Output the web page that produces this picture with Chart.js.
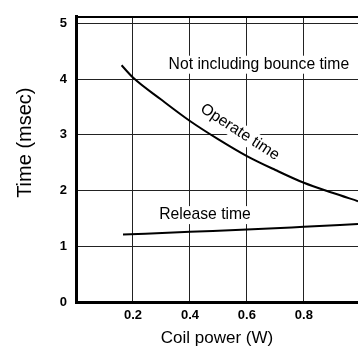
<!DOCTYPE html>
<html>
<head>
<meta charset="utf-8">
<script src="https://cdn.jsdelivr.net/npm/chart.js@4"></script>
<style>
  html, body { margin: 0; padding: 0; background: #fff; overflow: hidden; }
  #wrap { width: 358px; height: 349px; position: relative; }
</style>
</head>
<body>
<div id="wrap"><canvas id="coilChart"></canvas></div>
<script>
// values
const operatePower = [0.16, 0.2, 0.3, 0.4, 0.5, 0.6, 0.7, 0.8, 0.9, 0.99];
const operateTime = [4.25, 4.03, 3.63, 3.25, 2.92, 2.62, 2.37, 2.14, 1.96, 1.81];
const releasePower = [0.165, 0.4, 0.6, 0.8, 0.99];
const releaseTime = [1.21, 1.26, 1.30, 1.35, 1.40];
const xTicks = [0.2, 0.4, 0.6, 0.8];
const yTicks = [0, 1, 2, 3, 4, 5];

// labels placed in data units
const notes = [
  { text: 'Not including bounce time', x: 0.642, y: 4.26, angle: 0 },
  { text: 'Operate time', x: 0.575, y: 3.05, angle: 33 },
  { text: 'Release time', x: 0.453, y: 1.56, angle: 0 }
];
const yTitle = { text: 'Time (msec)', y: 2.86 };

const FONT = '"Liberation Sans", Arial, sans-serif';
const toPoints = (xs, ys) => xs.map((x, i) => ({ x: x, y: ys[i] }));

const notePlugin = {
  id: 'notes',
  afterDatasetsDraw(chart) {
    const ctx = chart.ctx;
    const xs = chart.scales.x, ys = chart.scales.y;
    ctx.save();
    ctx.font = '15.7px ' + FONT;
    ctx.textAlign = 'center';
    ctx.textBaseline = 'middle';
    notes.forEach(n => {
      const w = ctx.measureText(n.text).width;
      ctx.save();
      ctx.translate(xs.getPixelForValue(n.x), ys.getPixelForValue(n.y));
      ctx.rotate(n.angle * Math.PI / 180);
      ctx.fillStyle = '#fff';
      ctx.fillRect(-w / 2 - 2, -9, w + 4, 18);
      ctx.fillStyle = '#000';
      ctx.fillText(n.text, 0, 0);
      ctx.restore();
    });
    // y axis title, sits above the middle like in the original
    ctx.save();
    ctx.font = '20px ' + FONT;
    ctx.fillStyle = '#000';
    ctx.translate(25, ys.getPixelForValue(yTitle.y));
    ctx.rotate(-Math.PI / 2);
    ctx.fillText(yTitle.text, 0, 0);
    ctx.restore();
    ctx.restore();
  }
};

const tickFont = { family: FONT, size: 13, weight: 'bold' };
const titleFont = { family: FONT, size: 17 };

new Chart(document.getElementById('coilChart'), {
  type: 'line',
  data: {
    datasets: [
      {
        label: 'Operate time',
        data: toPoints(operatePower, operateTime),
        borderColor: '#000',
        borderWidth: 2,
        pointRadius: 0,
        cubicInterpolationMode: 'monotone',
        fill: false
      },
      {
        label: 'Release time',
        data: toPoints(releasePower, releaseTime),
        borderColor: '#000',
        borderWidth: 2,
        pointRadius: 0,
        cubicInterpolationMode: 'monotone',
        fill: false
      }
    ]
  },
  options: {
    responsive: true,
    maintainAspectRatio: false,
    animation: false,
    layout: { padding: { top: 10, right: 0, left: 0, bottom: 0 } },
    plugins: { legend: { display: false }, tooltip: { enabled: false } },
    scales: {
      x: {
        type: 'linear',
        min: 0,
        max: 0.99,
        afterBuildTicks: s => { s.ticks = xTicks.map(v => ({ value: v })); },
        afterFit: s => { s.height = 47; },
        grid: { color: '#222', lineWidth: 1, drawTicks: false },
        border: { color: '#000', width: 3 },
        ticks: { color: '#000', font: tickFont, padding: 6, maxRotation: 0, callback: v => v.toFixed(1) },
        title: { display: true, text: 'Coil power (W)', color: '#000', font: titleFont, padding: { top: 1, bottom: 0 } }
      },
      x2: {
        type: 'linear',
        position: 'top',
        min: 0,
        max: 0.99,
        afterFit: s => { s.height = 0; },
        grid: { display: false, drawTicks: false },
        border: { color: '#000', width: 2 },
        ticks: { display: false }
      },
      y: {
        min: 0,
        max: 5.12,
        afterBuildTicks: s => { s.ticks = yTicks.map(v => ({ value: v })); },
        afterFit: s => { s.width = 76; },
        grid: { color: '#222', lineWidth: 1, drawTicks: false },
        border: { color: '#000', width: 3 },
        ticks: { color: '#000', font: tickFont, padding: 9 }
      }
    }
  },
  plugins: [notePlugin]
});
</script>
</body>
</html>
